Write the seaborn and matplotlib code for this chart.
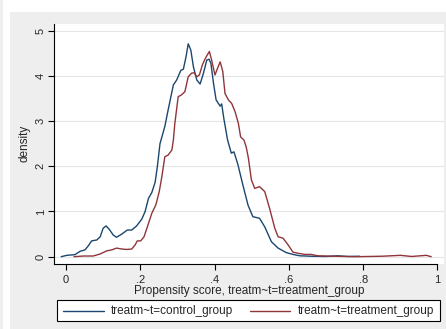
import numpy as np
import pandas as pd
import seaborn as sns
import matplotlib
matplotlib.use("Agg")
import matplotlib.pyplot as plt
from matplotlib.patches import Rectangle
from matplotlib.lines import Line2D

# Kernel density estimates of the propensity score by treatment group
control_x = [-0.013, 0.002, 0.024, 0.038, 0.051, 0.060, 0.069, 0.083, 0.092, 0.100,
             0.108, 0.117, 0.127, 0.136, 0.150, 0.165, 0.177, 0.190, 0.204, 0.213,
             0.222, 0.231, 0.240, 0.246, 0.253, 0.266, 0.275, 0.289, 0.298, 0.309,
             0.316, 0.323, 0.329, 0.336, 0.343, 0.352, 0.361, 0.370, 0.379, 0.385,
             0.390, 0.397, 0.404, 0.415, 0.419, 0.425, 0.435, 0.445, 0.452, 0.459,
             0.463, 0.476, 0.490, 0.503, 0.521, 0.535, 0.553, 0.571, 0.593, 0.611,
             0.629, 0.660, 0.700, 0.730, 0.760, 0.790]
control_y = [0.00, 0.03, 0.045, 0.12, 0.15, 0.24, 0.35, 0.37, 0.44, 0.63,
             0.68, 0.60, 0.48, 0.43, 0.50, 0.59, 0.59, 0.68, 0.83, 1.00,
             1.29, 1.42, 1.65, 2.00, 2.50, 2.88, 3.25, 3.80, 3.91, 4.12,
             4.15, 4.42, 4.71, 4.57, 4.20, 3.91, 3.82, 4.06, 4.35, 4.37,
             4.28, 3.84, 3.47, 3.33, 3.38, 3.05, 2.58, 2.29, 2.32, 2.14,
             2.03, 1.59, 1.14, 0.885, 0.85, 0.66, 0.33, 0.19, 0.09, 0.05,
             0.02, 0.01, 0.005, 0.02, 0.005, 0.01]

treat_x = [0.0215, 0.047, 0.073, 0.092, 0.110, 0.123, 0.136, 0.150, 0.163, 0.177,
           0.186, 0.192, 0.201, 0.210, 0.219, 0.231, 0.242, 0.251, 0.258, 0.266,
           0.275, 0.285, 0.289, 0.293, 0.302, 0.311, 0.320, 0.329, 0.338, 0.345,
           0.352, 0.359, 0.367, 0.374, 0.380, 0.386, 0.392, 0.401, 0.408, 0.415,
           0.422, 0.428, 0.437, 0.446, 0.455, 0.464, 0.470, 0.479, 0.485, 0.491,
           0.499, 0.508, 0.521, 0.535, 0.548, 0.562, 0.571, 0.584, 0.598, 0.611,
           0.625, 0.643, 0.660, 0.678, 0.720, 0.780, 0.850, 0.900, 0.930, 0.970,
           0.983]
treat_y = [0.00, 0.015, 0.015, 0.06, 0.13, 0.15, 0.19, 0.17, 0.16, 0.17,
           0.26, 0.35, 0.35, 0.44, 0.66, 0.96, 1.15, 1.44, 1.77, 2.21,
           2.25, 2.36, 2.58, 2.95, 3.54, 3.58, 3.65, 3.98, 4.06, 4.07,
           3.98, 4.02, 4.24, 4.37, 4.46, 4.54, 4.35, 4.02, 4.17, 4.31,
           4.10, 3.61, 3.47, 3.39, 3.21, 2.95, 2.65, 2.58, 2.43, 2.18,
           1.70, 1.51, 1.55, 1.44, 1.07, 0.63, 0.44, 0.41, 0.26, 0.10,
           0.075, 0.05, 0.05, 0.02, 0.01, 0.00, 0.01, 0.03, 0.005, 0.03,
           0.00]

groups = ["treatm~t=control_group", "treatm~t=treatment_group"]
x_ticks = [0, 0.2, 0.4, 0.6, 0.8, 1.0]
x_tick_labels = ["0", ".2", ".4", ".6", ".8", "1"]
y_ticks = [0, 1, 2, 3, 4, 5]

df = pd.concat([
    pd.DataFrame({"score": control_x, "density": control_y, "group": groups[0]}),
    pd.DataFrame({"score": treat_x, "density": treat_y, "group": groups[1]}),
], ignore_index=True)

sns.set_style("white")
plt.rcParams["font.family"] = ["Liberation Sans", "DejaVu Sans"]

W, H = 446, 329
fig = plt.figure(figsize=(W / 100, H / 100), dpi=100, facecolor="white")


def fx(px):
    return px / W


def fy(py):
    return (H - py) / H


# graph region background
fig.patches.append(Rectangle((fx(10), 0), 1 - fx(10), fy(12),
                             transform=fig.transFigure, facecolor="#eeeeee",
                             edgecolor="none", zorder=-10))
fig.patches.append(Rectangle((0, 0), fx(3), 1, transform=fig.transFigure,
                             facecolor="#eeeeee", edgecolor="none", zorder=-10))

ax_l, ax_r, ax_t, ax_b = 54, 444, 24, 263.7
ax = fig.add_axes([fx(ax_l), fy(ax_b), fx(ax_r - ax_l), (ax_b - ax_t) / H])
ax.set_facecolor("white")

palette = {groups[0]: "#1a476f", groups[1]: "#90353b"}
sns.lineplot(data=df, x="score", y="density", hue="group", palette=palette,
             sort=False, estimator=None, linewidth=1.0, ax=ax, legend=False)

ax.set_xlim(-0.0323, 1.0175)
ax.set_ylim(-0.155, 5.148)
ax.set_xticks(x_ticks)
ax.set_xticklabels(x_tick_labels)
ax.set_yticks(y_ticks)
ax.set_yticklabels([str(v) for v in y_ticks], rotation=90, va="center")
ax.grid(axis="y", color="#e6e6e6", linewidth=0.8)
ax.grid(axis="x", visible=False)
ax.tick_params(axis="both", direction="out", length=4, width=0.8, color="black",
               labelsize=8, bottom=True, left=True)
ax.tick_params(axis="x", pad=4)
ax.tick_params(axis="y", pad=2)
for side in ["top", "right"]:
    ax.spines[side].set_visible(False)
for side in ["left", "bottom"]:
    ax.spines[side].set_color("black")
    ax.spines[side].set_linewidth(0.8)
ax.spines["bottom"].set_bounds(-0.0323, 1.0)

ax.set_xlabel("Propensity score, treatm~t=treatment_group", fontsize=8.5, labelpad=0)
ax.set_ylabel("density", fontsize=8.5, labelpad=4)

# legend box below the plot
fig.patches.append(Rectangle((fx(57), fy(321)), fx(440 - 57), (321 - 300) / H,
                             transform=fig.transFigure, facecolor="white",
                             edgecolor="black", linewidth=0.8, zorder=5))
legend_y = fy(310.7)
for g, (x0, x1, xt) in zip(groups, [(63, 104, 111), (250, 290, 298)]):
    fig.add_artist(Line2D([fx(x0), fx(x1)], [legend_y, legend_y],
                          transform=fig.transFigure, color=palette[g],
                          linewidth=1.0, zorder=6))
    fig.text(fx(xt), legend_y, g, fontsize=8.5, va="center", ha="left", zorder=6)

fig.savefig("out.png", dpi=100, facecolor=fig.get_facecolor())
